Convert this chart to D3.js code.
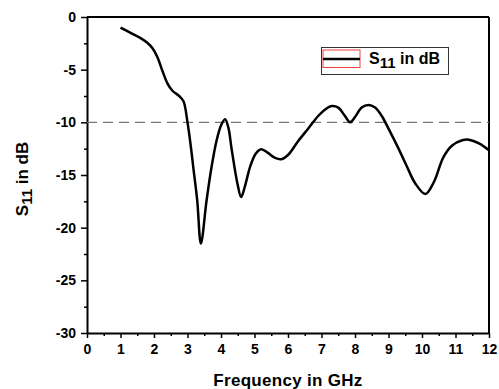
<!DOCTYPE html>
<html>
<head>
<meta charset="utf-8">
<script src="https://cdn.jsdelivr.net/npm/d3@7"></script>
<style>
  body { margin: 0; background: #fff; }
  svg text { font-family: "Liberation Sans", Arial, sans-serif; font-weight: bold; }
</style>
</head>
<body>
<div id="chart"></div>
<script>
// frequency samples in GHz
var freq = [1.0, 1.3, 1.6, 1.8, 1.95, 2.1, 2.25, 2.4, 2.55, 2.75, 2.88, 3.0, 3.1, 3.17, 3.29, 3.4,
  3.57, 3.72, 3.87, 4.0, 4.12, 4.22, 4.32, 4.49, 4.6, 4.72, 4.87, 5.04, 5.2, 5.4,
  5.6, 5.8, 6.0, 6.3, 6.6, 6.9, 7.1, 7.3, 7.5, 7.7, 7.85, 8.0, 8.2, 8.4, 8.6, 8.8,
  9.0, 9.3, 9.55, 9.8, 10.1, 10.35, 10.64, 10.9, 11.2, 11.4, 11.7, 12.0];
// S11 in dB
var s11 = [-1.0, -1.5, -2.0, -2.45, -2.95, -3.8, -5.1, -6.3, -7.0, -7.5, -8.0, -10.0, -12.3, -14.2, -17.4, -21.5,
  -17.4, -14.2, -11.7, -10.3, -9.7, -10.5, -12.6, -15.8, -17.1, -16.0, -14.2, -12.95, -12.55, -12.9,
  -13.35, -13.5, -13.1, -11.8, -10.6, -9.4, -8.8, -8.45, -8.6, -9.4, -10.0, -9.5, -8.6, -8.35, -8.6, -9.4,
  -10.6, -12.5, -14.2, -15.8, -16.8, -15.7, -13.3, -12.2, -11.7, -11.65, -12.0, -12.65];

var xTicks = d3.range(0, 13, 1);
var yTicks = [0, -5, -10, -15, -20, -25, -30];
var threshold = -10;

var width = 499, height = 389;
var margin = { top: 17, right: 10, bottom: 56, left: 87 };
var w = 489 - margin.left;
var h = 333 - margin.top;

var svg = d3.select('#chart').append('svg')
  .attr('width', width)
  .attr('height', height);

var g = svg.append('g')
  .attr('transform', 'translate(' + margin.left + ',' + margin.top + ')');

var x = d3.scaleLinear().domain([0, 12]).range([0, w]);
var y = d3.scaleLinear().domain([-30, 0]).range([h, 0]);

// minor ticks
g.append('g')
  .attr('transform', 'translate(0,' + h + ')')
  .call(d3.axisBottom(x).tickValues(d3.range(0.5, 12, 1)).tickSize(3).tickFormat(''))
  .call(function(a) { a.select('.domain').remove(); })
  .selectAll('line').attr('stroke-width', 1.5);

g.append('g')
  .call(d3.axisLeft(y).tickValues(d3.range(-27.5, 0, 5)).tickSize(3).tickFormat(''))
  .call(function(a) { a.select('.domain').remove(); })
  .selectAll('line').attr('stroke-width', 1.5);

// major axes
var xAxis = g.append('g')
  .attr('transform', 'translate(0,' + h + ')')
  .call(d3.axisBottom(x).tickValues(xTicks).tickSize(5).tickPadding(6).tickSizeOuter(0));

var yAxis = g.append('g')
  .call(d3.axisLeft(y).tickValues(yTicks).tickSize(6).tickPadding(5).tickSizeOuter(0)
    .tickFormat(function(d) { return d; }));

[xAxis, yAxis].forEach(function(a) {
  a.select('.domain').attr('stroke-width', 2);
  a.selectAll('.tick line').attr('stroke-width', 1.5);
  a.selectAll('text').attr('font-size', 14).attr('fill', '#000')
    .style('font-family', '"Liberation Sans", Arial, sans-serif').style('font-weight', 'bold');
});

// top and right frame
g.append('line').attr('x1', 0).attr('x2', w).attr('y1', 0).attr('y2', 0)
  .attr('stroke', '#000').attr('stroke-width', 2);
g.append('line').attr('x1', w).attr('x2', w).attr('y1', 0).attr('y2', h)
  .attr('stroke', '#000').attr('stroke-width', 2);

// -10 dB reference line
g.append('line')
  .attr('x1', 0).attr('x2', w)
  .attr('y1', y(threshold)).attr('y2', y(threshold))
  .attr('stroke', '#777').attr('stroke-width', 1.3)
  .attr('stroke-dasharray', '10,6');

// the curve
var data = freq.map(function(f, i) { return { f: f, v: s11[i] }; });
var line = d3.line()
  .x(function(d) { return x(d.f); })
  .y(function(d) { return y(d.v); })
  .curve(d3.curveCatmullRom.alpha(0.5));

g.append('path')
  .datum(data)
  .attr('fill', 'none')
  .attr('stroke', '#000')
  .attr('stroke-width', 2.5)
  .attr('d', line);

// legend
var lg = svg.append('g');
lg.append('rect').attr('x', 321.5).attr('y', 47.5).attr('width', 127).attr('height', 27)
  .attr('fill', '#fff').attr('stroke', '#333').attr('stroke-width', 1);
lg.append('rect').attr('x', 323).attr('y', 50).attr('width', 37).attr('height', 17.5)
  .attr('fill', 'none').attr('stroke', '#f04040').attr('stroke-width', 1);
lg.append('line').attr('x1', 323).attr('x2', 360).attr('y1', 59).attr('y2', 59)
  .attr('stroke', '#000').attr('stroke-width', 2.5);
var lt = lg.append('text').attr('x', 369).attr('y', 64).attr('font-size', 16);
lt.append('tspan').text('S');
lt.append('tspan').attr('dy', 4).attr('font-size', 15).text('11');
lt.append('tspan').attr('dy', -4).text(' in dB');

// axis titles
svg.append('text')
  .attr('x', margin.left + w / 2).attr('y', 386)
  .attr('text-anchor', 'middle').attr('font-size', 17)
  .attr('letter-spacing', 0.3)
  .text('Frequency in GHz');

var yt = svg.append('text')
  .attr('transform', 'translate(28,' + 179 + ') rotate(-90)')
  .attr('text-anchor', 'middle').attr('font-size', 17);
yt.append('tspan').text('S');
yt.append('tspan').attr('dy', 4).attr('font-size', 15).text('11');
yt.append('tspan').attr('dy', -4).text(' in dB');
</script>
</body>
</html>
